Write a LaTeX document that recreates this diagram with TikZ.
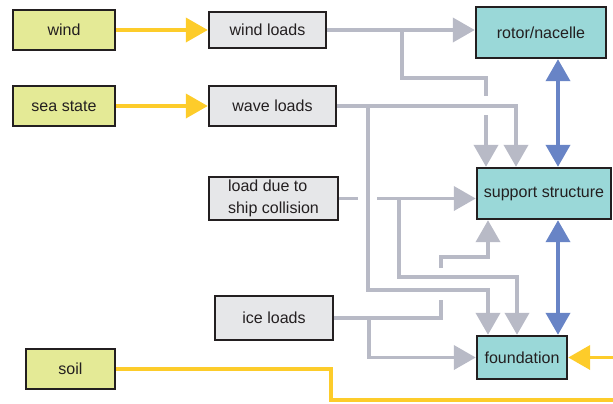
\documentclass[tikz,border=0pt]{standalone}
\usepackage{fontspec}
\setmainfont{Liberation Sans}
\usetikzlibrary{arrows.meta}
\definecolor{srcyellow}{RGB}{228,234,150}
\definecolor{loadgray}{RGB}{230,231,233}
\definecolor{partteal}{RGB}{154,216,216}
\definecolor{feedyellow}{RGB}{253,204,42}
\definecolor{linegray}{RGB}{184,186,198}
\definecolor{linkblue}{RGB}{104,132,198}
\definecolor{inkgray}{RGB}{35,31,32}

\begin{document}
\begin{tikzpicture}[x=0.025cm, y=-0.025cm,
  box/.style={draw=inkgray, line width=1.7pt, inner sep=0pt, text=inkgray,
    font=\fontsize{11.4}{15.5}\selectfont},
  source/.style={box, fill=srcyellow},
  loadbox/.style={box, fill=loadgray},
  part/.style={box, fill=partteal},
  tip/.tip={Triangle[length=0.55cm, width=0.6cm]},
  feed/.style={feedyellow, line width=2.8pt, -tip},
  load/.style={linegray, line width=2.8pt},
  loadarrow/.style={load, -tip},
  link/.style={linkblue, line width=2.8pt, tip-tip}]
  \useasboundingbox (0,0) rectangle (613,403);
  \clip (0,0) rectangle (613,403);

  % Sources
  \node[source, minimum width=2.55cm, minimum height=1cm] (wind) at (64,30) {wind};
  \node[source, minimum width=2.55cm, minimum height=1cm] (sea) at (64,106) {sea state};
  \node[source, minimum width=2.225cm, minimum height=1cm] (soil) at (70.5,369) {soil};

  % Loads
  \node[loadbox, minimum width=2.925cm, minimum height=0.9cm] (windloads) at (267.5,30) {wind loads};
  \node[loadbox, minimum width=3.175cm, minimum height=1cm] (waveloads) at (272.5,106) {wave loads};
  \node[loadbox, minimum width=3.225cm, minimum height=1.075cm, align=left] (ship) at (273.5,198.5) {load due to\\ship collision};
  \node[loadbox, minimum width=2.95cm, minimum height=1.1cm] (ice) at (274,318) {ice loads};

  % Parts
  \node[part, minimum width=3.25cm, minimum height=1.275cm] (rotor) at (541,32.5) {rotor/nacelle};
  \node[part, minimum width=3.35cm, minimum height=1.275cm] (support) at (544,193.5) {support structure};
  \node[part, minimum width=2.25cm, minimum height=1.075cm] (foundation) at (522,357.5) {foundation};

  % Environment to loads
  \draw[feed] (wind) -- (windloads);
  \draw[feed] (sea) -- (waveloads);
  \draw[feed] (soil.east) -| (331,400) -- (625,400) |- (foundation.east);

  % Wind loads
  \draw[loadarrow] (windloads) -- (windloads -| rotor.west);
  \draw[load] (402,0 |- windloads.east) -- (402,78) -| (486,96);
  \draw[loadarrow] (486,115) -- (486,0 |- support.north);

  % Wave loads
  \draw[loadarrow] (waveloads.east) -| (516,0 |- support.north);
  \draw[loadarrow] (368,0 |- waveloads.east) |- (488,290) -- (488,0 |- foundation.north);

  % Ship collision
  \draw[load] (ship.east) -- (358,0 |- ship.east);
  \draw[loadarrow] (377,0 |- ship.east) -- (ship.east -| support.west);
  \draw[loadarrow] (399,0 |- ship.east) |- (517,277) -- (517,0 |- foundation.north);

  % Ice loads
  \draw[load] (ice.east) -| (441,300);
  \draw[loadarrow] (441,268) |- (488,257) -- (488,0 |- support.south);
  \draw[loadarrow] (369,0 |- ice.east) |- (foundation.west);

  % Structural links
  \draw[link] (rotor.south -| 558,0) -- (support.north -| 558,0);
  \draw[link] (support.south -| 558,0) -- (foundation.north -| 558,0);
\end{tikzpicture}
\end{document}
